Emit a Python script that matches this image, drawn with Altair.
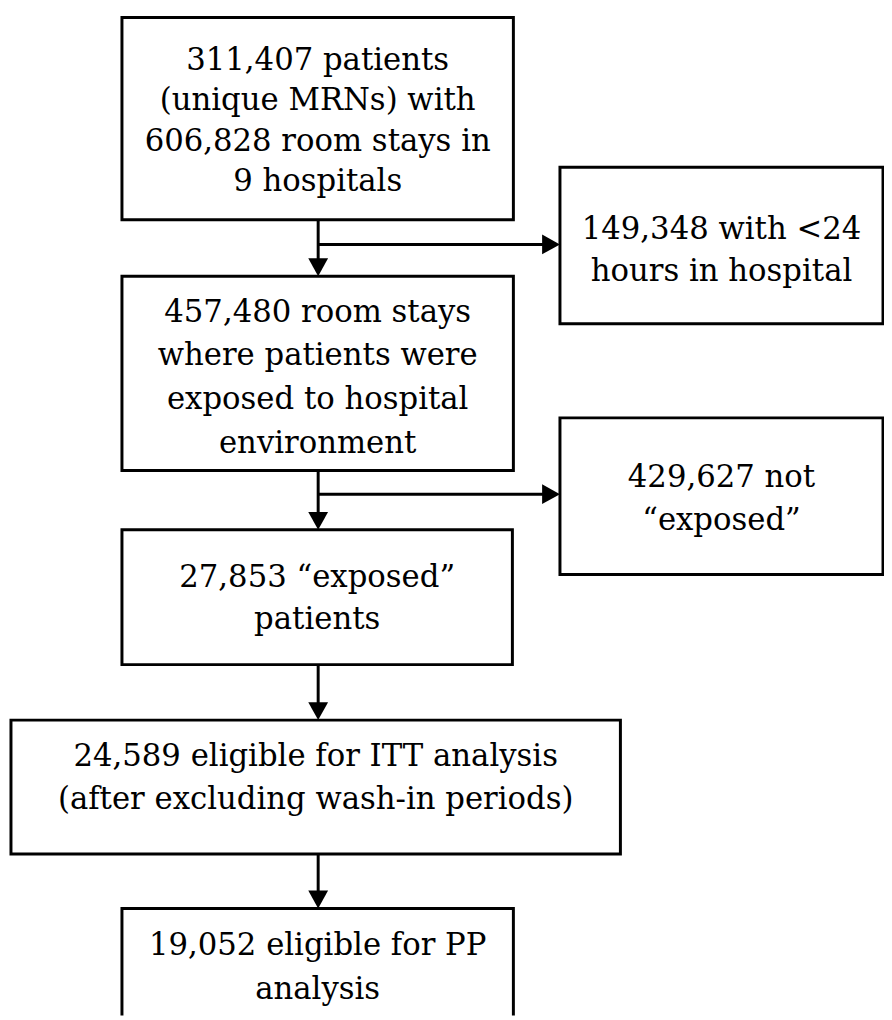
import altair as alt
import pandas as pd

# ---- content ----
box_ids = ["start", "short", "exposed_env", "not_exposed", "exposed", "itt", "pp"]
box_lines = [
    ["311,407 patients", "(unique MRNs) with", "606,828 room stays in", "9 hospitals"],
    ["149,348 with <24", "hours in hospital"],
    ["457,480 room stays", "where patients were", "exposed to hospital", "environment"],
    ["429,627 not", "\u201cexposed\u201d"],
    ["27,853 \u201cexposed\u201d", "patients"],
    ["24,589 eligible for ITT analysis", "(after excluding wash-in periods)"],
    ["19,052 eligible for PP", "analysis"],
]

# ---- layout (page pixels) ----
box_left = [123, 565, 123, 565, 123, 11, 123]
box_right = [518, 891, 518, 891, 517, 626, 518]
box_top = [13, 164, 274, 417, 530, 722, 912]
box_bottom = [217, 322, 470, 575, 666, 857, 1035]
first_baseline = [66, 236, 320, 487, 588, 768, 959]
line_step = [40.7, 43, 44, 43, 42, 44, 44]

# connectors
links_from = ["start", "exposed_env", "exposed", "itt"]
links_to = ["exposed_env", "exposed", "itt", "pp"]
branch_to = ["short", "not_exposed"]
branch_from = ["start", "exposed_env"]
branch_y = [242, 494]
spine_x = 321
head_len = 18
head_w = 20

boxes = pd.DataFrame({
    "id": box_ids, "x0": box_left, "x1": box_right, "y0": box_top, "y1": box_bottom,
})
bidx = {b: i for i, b in enumerate(box_ids)}

text_rows = []
for i, lines in enumerate(box_lines):
    cx = (box_left[i] + box_right[i]) / 2
    for k, t in enumerate(lines):
        text_rows.append({"x": cx, "y": first_baseline[i] + k * line_step[i], "t": t})
texts = pd.DataFrame(text_rows)

rule_rows = []
down_heads = []
right_heads = []
for f, t in zip(links_from, links_to):
    y0 = box_bottom[bidx[f]]
    y1 = box_top[bidx[t]]
    rule_rows.append({"x": spine_x, "x2": spine_x, "y": y0, "y2": y1 - head_len / 2})
    down_heads.append({"x": spine_x, "y": y1 - head_len / 2})
for f, t, by in zip(branch_from, branch_to, branch_y):
    xe = box_left[bidx[t]]
    rule_rows.append({"x": spine_x, "x2": xe - head_len / 2, "y": by, "y2": by})
    right_heads.append({"x": xe - head_len / 2, "y": by})
rules = pd.DataFrame(rule_rows)
dheads = pd.DataFrame(down_heads)
rheads = pd.DataFrame(right_heads)

W, H = 884, 1012
xs = alt.Scale(domain=[8, 8 + W], nice=False, zero=False)
ys = alt.Scale(domain=[8, 8 + H], nice=False, zero=False, reverse=True)
X = lambda f: alt.X(f, type="quantitative", scale=xs, axis=None)
Y = lambda f: alt.Y(f, type="quantitative", scale=ys, axis=None)

rect = alt.Chart(boxes).mark_rect(fill="white", stroke="black", strokeWidth=3, clip=True).encode(
    x=X("x0"), x2="x1", y=Y("y0"), y2="y1"
)
rule = alt.Chart(rules).mark_rule(color="black", strokeWidth=3).encode(
    x=X("x"), x2="x2", y=Y("y"), y2="y2"
)
r = head_w / 2
scale_size = (2 * r) ** 2
k = head_len / head_w  # half-length in path units
down = alt.Chart(dheads).mark_point(
    shape=f"M-1,-{k:.3f}L1,-{k:.3f}L0,{k:.3f}Z", filled=True, color="black", opacity=1,
    size=scale_size, strokeWidth=0
).encode(x=X("x"), y=Y("y"))
right = alt.Chart(rheads).mark_point(
    shape=f"M-{k:.3f},-1L-{k:.3f},1L{k:.3f},0Z", filled=True, color="black", opacity=1,
    size=scale_size, strokeWidth=0
).encode(x=X("x"), y=Y("y"))
text = alt.Chart(texts).mark_text(
    font="DejaVu Serif", fontSize=31, baseline="alphabetic", align="center", color="black"
).encode(x=X("x"), y=Y("y"), text="t:N")

chart = alt.layer(rule, down, right, rect, text).properties(
    width=W, height=H, padding=0, autosize=alt.AutoSizeParams(type="none")
).configure_view(stroke=None)

chart.save("out.html", embed_options={"renderer": "svg", "actions": False})
